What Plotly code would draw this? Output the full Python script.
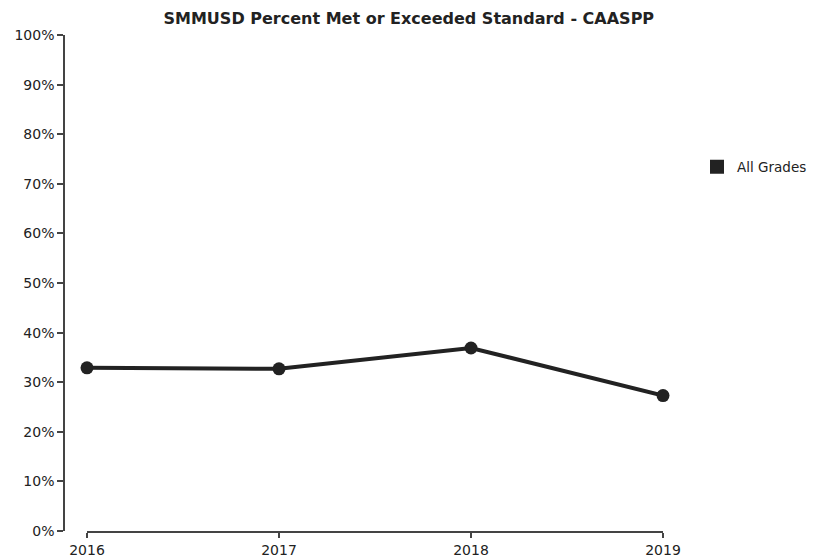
import plotly.graph_objects as go

years = [2016, 2017, 2018, 2019]
pct_met = [32.9, 32.7, 36.9, 27.3]
series_name = "All Grades"
y_ticks = list(range(0, 101, 10))
y_tick_text = [f"{v}%" for v in y_ticks]

ink = "#222222"
axis_col = "#444444"
font = "DejaVu Sans, Arial, sans-serif"

# the page puts the figure 8px in from the top-left corner
W, H = 823, 558
ml, mr, mt, mb = 56, 100, 27, 35
pw = W - ml - mr

fig = go.Figure()
fig.add_trace(go.Scatter(
    x=years, y=pct_met, mode="lines+markers", showlegend=False, cliponaxis=False,
    line=dict(color=ink, width=4), marker=dict(color=ink, size=13),
))
# legend swatch drawn as a square, like the original
fig.add_trace(go.Scatter(
    x=[None], y=[None], mode="markers", name=series_name,
    marker=dict(symbol="square", color=ink, size=14),
))

fig.update_layout(
    width=W, height=H,
    margin=dict(l=ml, r=mr, t=mt, b=mb, autoexpand=False),
    paper_bgcolor="white", plot_bgcolor="white",
    font=dict(family=font, color=ink, size=13),
    title=dict(text="<b>SMMUSD Percent Met or Exceeded Standard - CAASPP</b>",
               x=0.487, xref="container", y=1 - 5 / H, yanchor="top", pad=dict(t=0),
               font=dict(size=16, color=ink)),
    legend=dict(x=(689 - ml) / pw, y=0.734, yanchor="middle", xanchor="left",
                font=dict(size=13.5), itemsizing="trace"),
    xaxis=dict(
        domain=[(79 - ml) / pw, (655 - ml) / pw], range=[2016, 2019],
        tickvals=years, ticktext=[str(y) for y in years], automargin=False,
        showgrid=False, zeroline=False, showline=True, linecolor=axis_col, linewidth=1.5,
        ticks="outside", ticklen=5, tickwidth=1.5, tickcolor=axis_col,
        tickfont=dict(size=14),
    ),
    yaxis=dict(
        range=[0, 100], tickvals=y_ticks, ticktext=y_tick_text,
        anchor="free", position=0, automargin=False,
        showgrid=False, zeroline=False, showline=True, linecolor=axis_col, linewidth=1.5,
        ticks="outside", ticklen=6, tickwidth=1.5, tickcolor=axis_col,
        tickfont=dict(size=14),
    ),
)

fig.write_html("out.html")
